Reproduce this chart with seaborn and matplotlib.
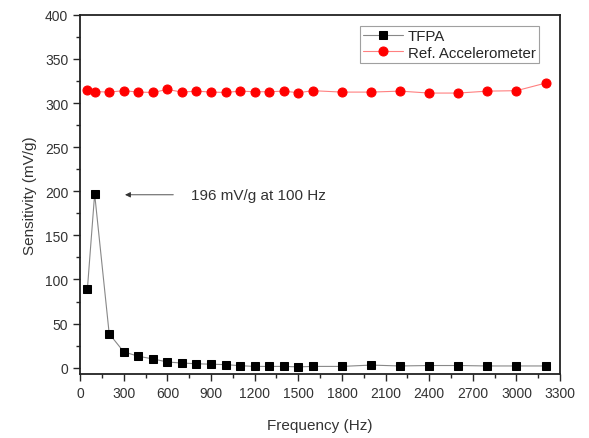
import numpy as np
import pandas as pd
import matplotlib
matplotlib.use("Agg")
import matplotlib.pyplot as plt
import seaborn as sns
from matplotlib.ticker import MultipleLocator

# frequencies (Hz)
freq = [50, 100, 200, 300, 400, 500, 600, 700, 800, 900, 1000, 1100, 1200,
        1300, 1400, 1500, 1600, 1800, 2000, 2200, 2400, 2600, 2800, 3000, 3200]

# sensitivity (mV/g)
tfpa = [89, 197, 38.5, 18, 13, 10, 6.5, 5.3, 4.5, 4, 3.5, 2.3, 1.5,
        1.5, 1.5, 1, 1.5, 1.5, 3, 2, 2.5, 2.5, 2, 2, 2]
ref_acc = [315, 313, 312.4, 314, 312.4, 312, 315.4, 312.4, 313.5, 312.4, 312,
           313.5, 312.8, 312.8, 313.5, 311.7, 314, 312.4, 312.4, 313.5, 311.3,
           311.3, 313.5, 314, 322.6]

df = pd.DataFrame({"freq": freq, "TFPA": tfpa, "Ref. Accelerometer": ref_acc})

sns.set_style("ticks")
plt.rcParams["font.family"] = ["Liberation Sans", "DejaVu Sans"]

fig = plt.figure(figsize=(5.89, 4.39), dpi=100)
ax = fig.add_axes([0.136, 0.146, 0.815, 0.818])

sns.lineplot(data=df, x="freq", y="TFPA", ax=ax, color="#888888", lw=0.8,
             marker="s", markersize=5.5, markerfacecolor="black",
             markeredgecolor="black", label="TFPA")
sns.lineplot(data=df, x="freq", y="Ref. Accelerometer", ax=ax, color="#ff8080",
             lw=0.8, marker="o", markersize=6.5, markerfacecolor="red",
             markeredgecolor="red", label="Ref. Accelerometer")

ax.set_xlim(0, 3300)
ax.set_ylim(-7, 400)
ax.xaxis.set_major_locator(MultipleLocator(300))
ax.xaxis.set_minor_locator(MultipleLocator(150))
ax.yaxis.set_major_locator(MultipleLocator(50))
ax.yaxis.set_minor_locator(MultipleLocator(25))
ax.tick_params(which="major", length=5, width=1, labelsize=10, labelcolor="#333333")
ax.tick_params(which="minor", length=3, width=1)
ax.set_xticks(np.arange(0, 3301, 300))
ax.set_yticks(np.arange(0, 401, 50))

for s in ax.spines.values():
    s.set_linewidth(1.3)
    s.set_color("#222222")

ax.set_xlabel("Frequency (Hz)", fontsize=11, color="#333333", labelpad=13)
ax.set_ylabel("Sensitivity (mV/g)", fontsize=11, color="#333333", labelpad=6)

ax.annotate("", xy=(290, 196), xytext=(660, 196),
            arrowprops=dict(arrowstyle="-|>", color="#333333", lw=0.6,
                            mutation_scale=8))
ax.text(760, 196, "196 mV/g at 100 Hz", fontsize=11, color="#333333",
        va="center", ha="left")

leg = ax.legend(loc="upper right", fontsize=10.8, frameon=True, fancybox=False,
                borderpad=0.2, labelspacing=0.15, handlelength=2.7,
                handletextpad=0.3, bbox_to_anchor=(0.965, 0.98),
                borderaxespad=0.3)
leg.get_frame().set_edgecolor("#888888")
leg.get_frame().set_linewidth(0.8)

fig.savefig("out.png", dpi=100)
